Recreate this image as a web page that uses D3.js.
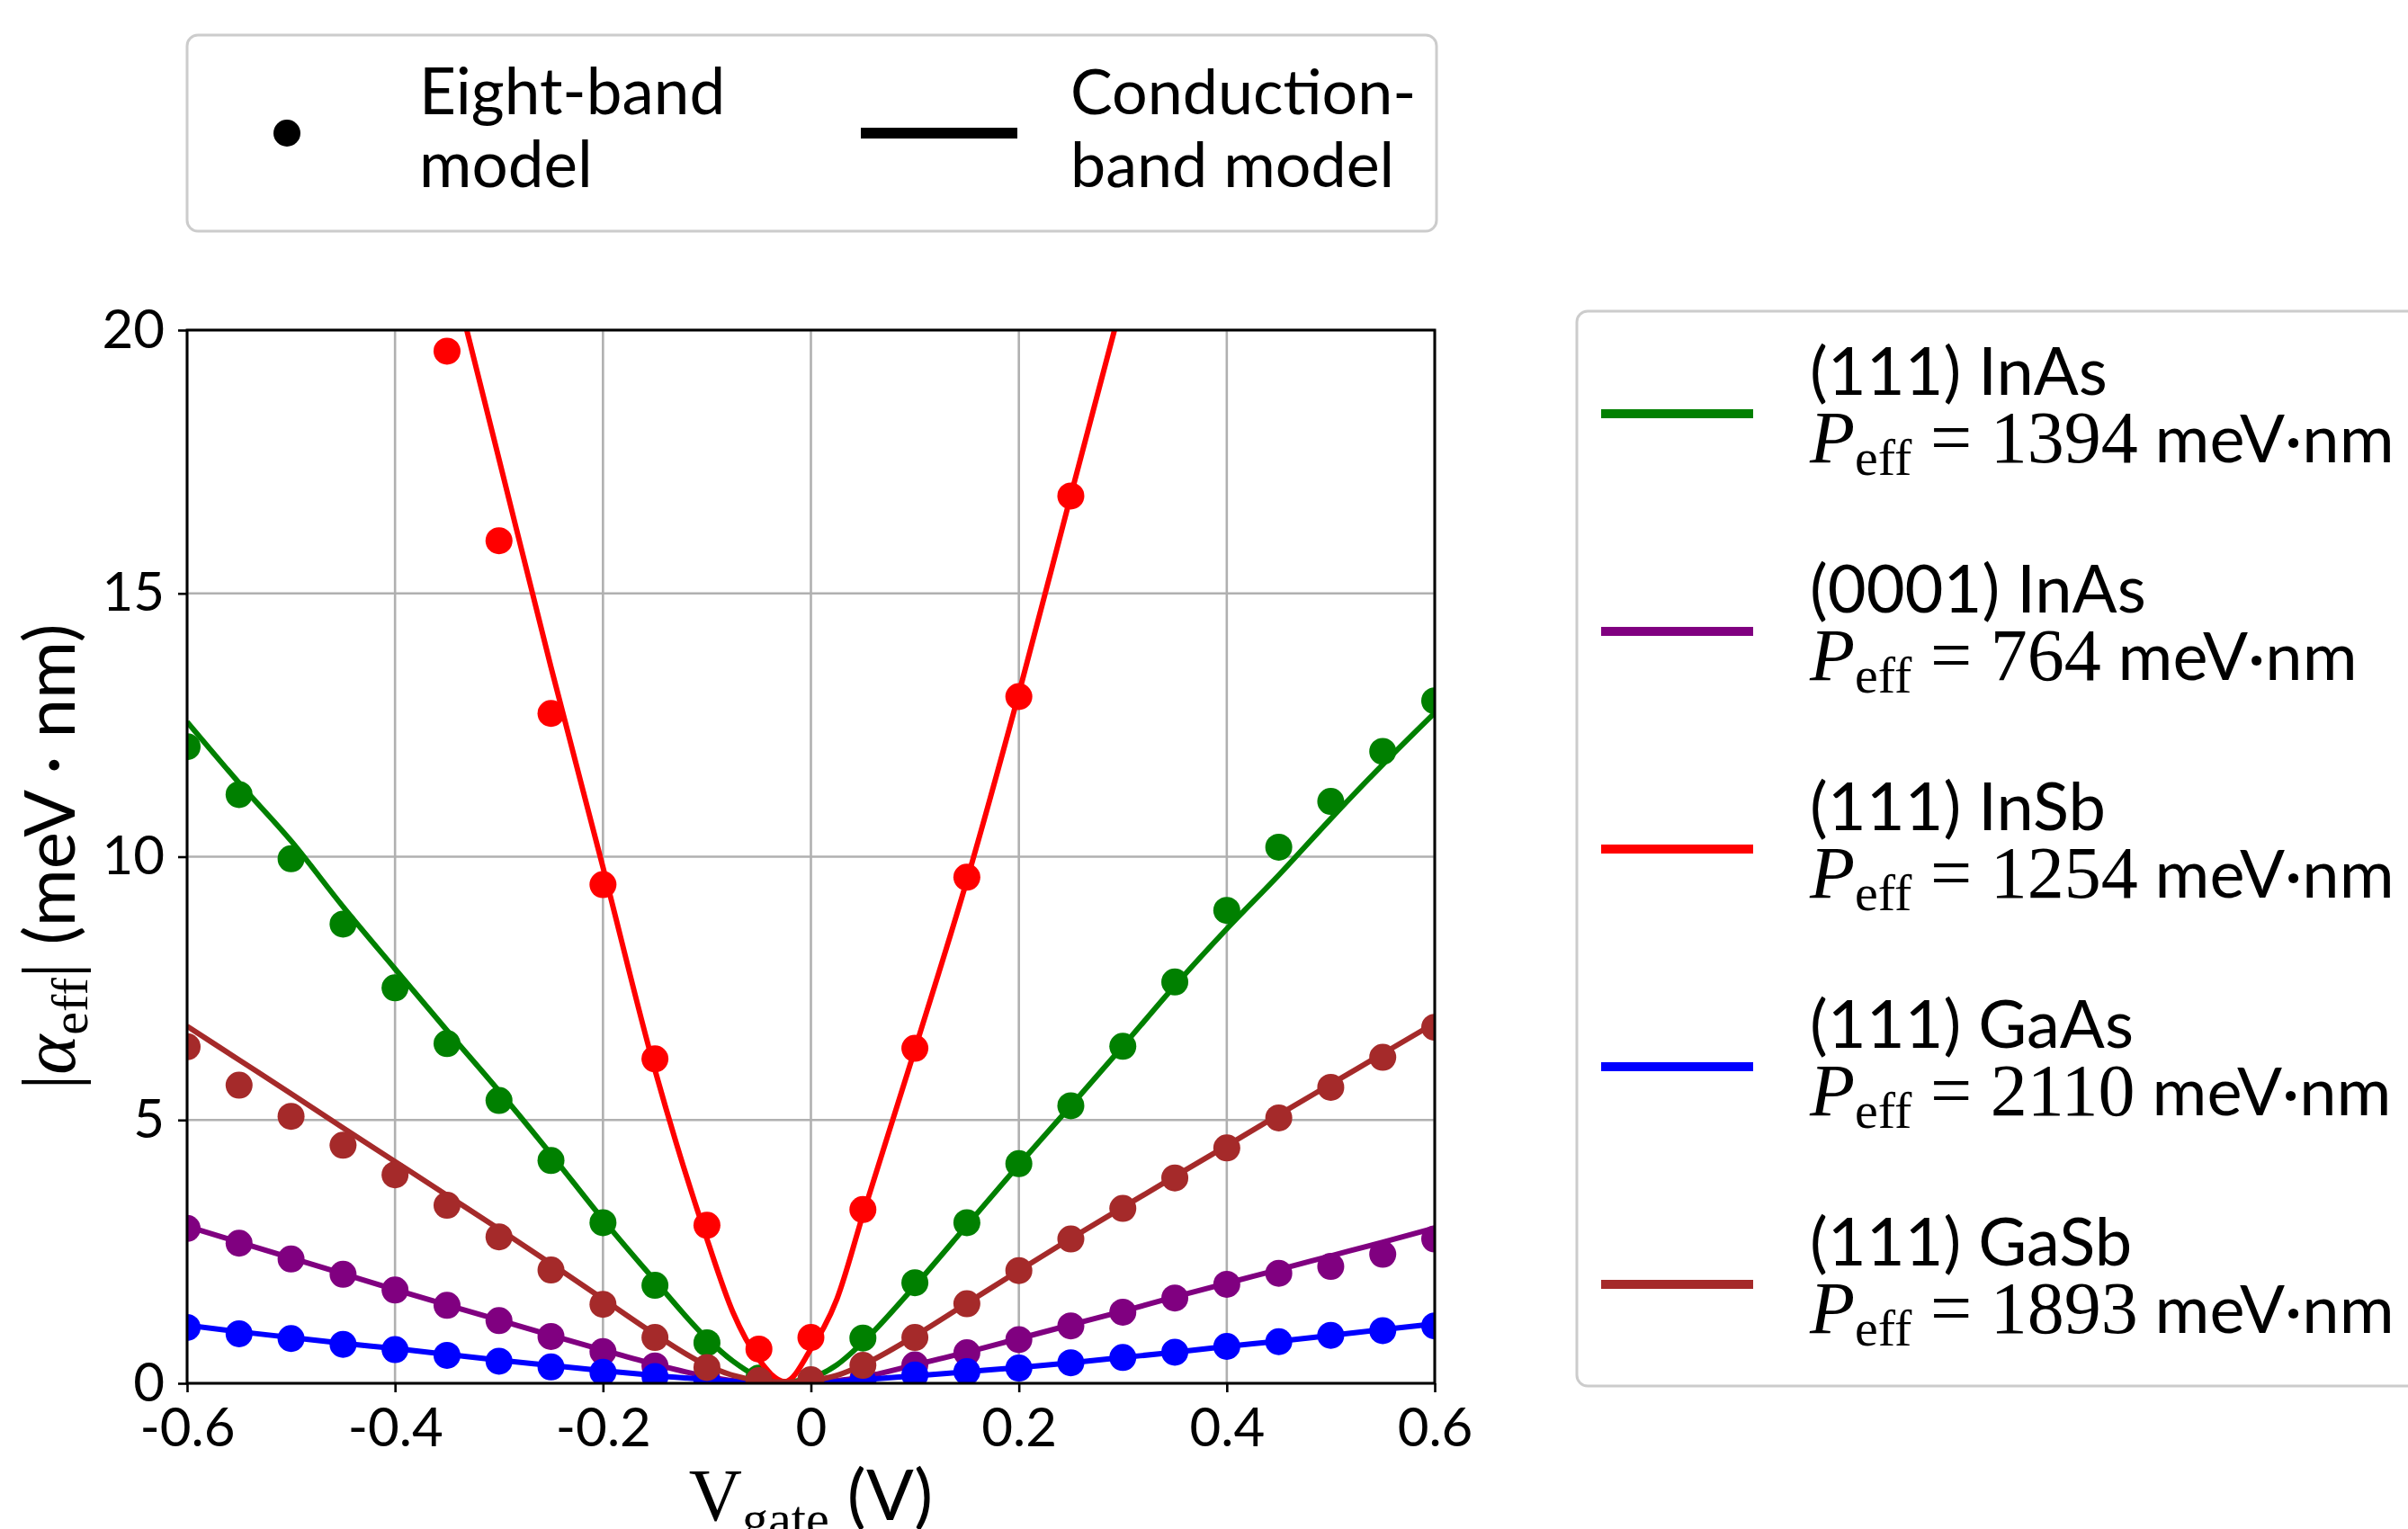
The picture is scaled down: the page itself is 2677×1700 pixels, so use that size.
<!DOCTYPE html>
<html>
<head>
<meta charset="utf-8">
<script src="https://cdn.jsdelivr.net/npm/d3@7"></script>
<style>
    html, body { margin: 0; padding: 0; background: #fff; }
    svg { display: block; }
    text { white-space: pre; }
</style>
</head>
<body>
<div id="chart"></div>
<script>
// Gate voltages of the eight-band points and of the conduction-band curves
const vgate = [-0.6, -0.55, -0.5, -0.45, -0.4, -0.35, -0.3, -0.25, -0.2, -0.15, -0.1, -0.05,
    0, 0.05, 0.1, 0.15, 0.2, 0.25, 0.3, 0.35, 0.4, 0.45, 0.5, 0.55, 0.6];
const vgateModel = [-0.6, -0.55, -0.5, -0.45, -0.4, -0.35, -0.3, -0.25, -0.2, -0.15, -0.1, -0.075,
    -0.05, -0.025, 0, 0.025, 0.05, 0.1, 0.15, 0.2, 0.25, 0.3, 0.35, 0.4, 0.45, 0.5, 0.55, 0.6];

// Eight-band model |alpha_eff| (meV nm)
const inAs111Eight = [12.09, 11.18, 9.96, 8.72, 7.51, 6.45, 5.37, 4.23, 3.05, 1.86, 0.77, 0.10,
    0.05, 0.86, 1.91, 3.05, 4.17, 5.27, 6.40, 7.62, 8.98, 10.18, 11.05, 12.00, 12.96];
const inAs0001Eight = [2.94, 2.66, 2.36, 2.07, 1.77, 1.48, 1.19, 0.89, 0.60, 0.33, 0.09, 0.01,
    0.01, 0.09, 0.35, 0.58, 0.83, 1.09, 1.35, 1.62, 1.88, 2.09, 2.22, 2.45, 2.74];
const inSb111Eight = [null, null, null, null, null, 19.6, 16.0, 12.72, 9.47, 6.16, 3.00, 0.65,
    0.87, 3.30, 6.36, 9.61, 13.04, 16.85, null, null, null, null, null, null, null];
const gaAs111Eight = [1.06, 0.94, 0.85, 0.74, 0.64, 0.53, 0.42, 0.31, 0.21, 0.13, 0.05, 0.01,
    0.00, 0.05, 0.16, 0.22, 0.29, 0.39, 0.49, 0.59, 0.70, 0.79, 0.91, 1.00, 1.09];
const gaSb111Eight = [6.39, 5.66, 5.07, 4.52, 3.96, 3.38, 2.78, 2.15, 1.50, 0.87, 0.30, 0.05,
    0.07, 0.34, 0.87, 1.51, 2.14, 2.74, 3.32, 3.90, 4.47, 5.04, 5.62, 6.19, 6.76];

// Conduction-band model |alpha_eff| (meV nm)
const inAs111Model = [12.56, 11.40, 10.30, 9.05, 7.87, 6.70, 5.55, 4.35, 3.11, 1.95, 0.85, 0.42,
    0.12, 0.03, 0.10, 0.35, 0.78, 1.85, 3.00, 4.15, 5.27, 6.40, 7.55, 8.63, 9.65, 10.72, 11.75, 12.73];
const inAs0001Model = [2.98, 2.68, 2.38, 2.08, 1.78, 1.49, 1.20, 0.91, 0.63, 0.36, 0.13, 0.05,
    0.02, 0.01, 0.02, 0.05, 0.12, 0.35, 0.59, 0.85, 1.11, 1.37, 1.64, 1.90, 2.16, 2.42, 2.68, 2.95];
const inSb111Model = [null, null, null, null, null, 21.5, 17.55, 13.6, 9.8, 5.95, 2.74, 1.35,
    0.45, 0.03, 0.65, 1.6, 3.2, 6.34, 9.55, 13.1, 16.86, 20.6, null, null, null, null, null, null];
const gaAs111Model = [1.10, 0.98, 0.87, 0.76, 0.66, 0.55, 0.44, 0.34, 0.24, 0.15, 0.07, 0.04,
    0.015, 0.005, 0.01, 0.03, 0.07, 0.14, 0.22, 0.30, 0.39, 0.49, 0.59, 0.70, 0.80, 0.91, 1.02, 1.13];
const gaSb111Model = [6.78, 6.14, 5.50, 4.85, 4.21, 3.57, 2.93, 2.27, 1.60, 0.93, 0.34, 0.15,
    0.05, 0.02, 0.05, 0.15, 0.35, 0.90, 1.52, 2.14, 2.75, 3.34, 3.93, 4.51, 5.10, 5.68, 6.26, 6.84];

const materials = ['(111) InAs', '(0001) InAs', '(111) InSb', '(111) GaAs', '(111) GaSb'];
const peffValues = ['1394', '764', '1254', '2110', '1893'];
const colors = ['#008000', '#800080', '#ff0000', '#0000ff', '#a52a2a'];
const eightBand = [inAs111Eight, inAs0001Eight, inSb111Eight, gaAs111Eight, gaSb111Eight];
const conductionBand = [inAs111Model, inAs0001Model, inSb111Model, gaAs111Model, gaSb111Model];

const xTicks = [-0.6, -0.4, -0.2, 0, 0.2, 0.4, 0.6];
const xTickLabels = ['-0.6', '-0.4', '-0.2', '0', '0.2', '0.4', '0.6'];
const yTicks = [0, 5, 10, 15, 20];
const yTickLabels = ['0', '5', '10', '15', '20'];

const SANS = 'Lato, "Open Sans", sans-serif';
const SERIF = '"Liberation Serif", "DejaVu Serif", serif';

const width = 2677;
const height = 1700;
const plot = { left: 208, right: 1595, top: 367, bottom: 1538 };

const series = materials.map((name, i) => ({
    name,
    peff: peffValues[i],
    color: colors[i],
    points: vgate.map((v, j) => [v, eightBand[i][j]]).filter((d) => d[1] !== null),
    curve: vgateModel.map((v, j) => [v, conductionBand[i][j]])
}));

const svg = d3.select('#chart')
    .append('svg')
    .attr('width', width)
    .attr('height', height)
    .attr('viewBox', `0 0 ${width} ${height}`);

svg.append('rect').attr('width', width).attr('height', height).attr('fill', '#fff');

const x = d3.scaleLinear().domain([-0.6, 0.6]).range([plot.left, plot.right]);
const y = d3.scaleLinear().domain([0, 20]).range([plot.bottom, plot.top]);

svg.append('clipPath')
    .attr('id', 'plot-clip')
    .append('rect')
    .attr('x', plot.left)
    .attr('y', plot.top)
    .attr('width', plot.right - plot.left)
    .attr('height', plot.bottom - plot.top);

// grid
const grid = svg.append('g').attr('stroke', '#b0b0b0').attr('stroke-width', 2.6);
grid.selectAll('line.vx')
    .data(xTicks)
    .enter()
    .append('line')
    .attr('x1', (d) => x(d)).attr('x2', (d) => x(d))
    .attr('y1', plot.top).attr('y2', plot.bottom);
grid.selectAll('line.hy')
    .data(yTicks)
    .enter()
    .append('line')
    .attr('y1', (d) => y(d)).attr('y2', (d) => y(d))
    .attr('x1', plot.left).attr('x2', plot.right);

// data
const lineGen = d3.line()
    .defined((d) => d[1] !== null)
    .x((d) => x(d[0]))
    .y((d) => y(d[1]))
    .curve(d3.curveMonotoneX);

const marks = svg.append('g').attr('clip-path', 'url(#plot-clip)');
series.forEach((s) => {
    marks.append('path')
        .datum(s.curve)
        .attr('d', lineGen)
        .attr('fill', 'none')
        .attr('stroke', s.color)
        .attr('stroke-width', 6)
        .attr('stroke-linejoin', 'round');
    marks.append('g')
        .selectAll('circle')
        .data(s.points)
        .enter()
        .append('circle')
        .attr('cx', (d) => x(d[0]))
        .attr('cy', (d) => y(d[1]))
        .attr('r', 15)
        .attr('fill', s.color);
});

// axes
const xAxis = svg.append('g')
    .attr('transform', `translate(0,${plot.bottom})`)
    .call(d3.axisBottom(x)
        .tickValues(xTicks)
        .tickFormat((d, i) => xTickLabels[i])
        .tickSize(10)
        .tickPadding(17));
const yAxis = svg.append('g')
    .attr('transform', `translate(${plot.left},0)`)
    .call(d3.axisLeft(y)
        .tickValues(yTicks)
        .tickFormat((d, i) => yTickLabels[i])
        .tickSize(10)
        .tickPadding(15));

[xAxis, yAxis].forEach((axis) => {
    axis.select('.domain').remove();
    axis.selectAll('.tick line').attr('stroke', '#000').attr('stroke-width', 2.6);
    axis.selectAll('.tick text')
        .attr('fill', '#000')
        .attr('font-family', SANS)
        .attr('font-size', 60);
});

svg.append('rect')
    .attr('x', plot.left)
    .attr('y', plot.top)
    .attr('width', plot.right - plot.left)
    .attr('height', plot.bottom - plot.top)
    .attr('fill', 'none')
    .attr('stroke', '#000')
    .attr('stroke-width', 3);

// rich text helper: parts of sans / serif text with optional subscript shifts
function richText(parent, px, py, parts, anchor) {
    const text = parent.append('text')
        .attr('x', px)
        .attr('y', py)
        .attr('text-anchor', anchor || 'start')
        .attr('fill', '#000');
    parts.forEach((p) => {
        const span = text.append('tspan')
            .text(p.t)
            .attr('font-family', p.serif ? SERIF : SANS)
            .attr('font-size', p.size);
        if (p.italic) span.attr('font-style', 'italic');
        if (p.dy) span.attr('dy', p.dy);
    });
    return text;
}

// axis labels
richText(svg, (plot.left + plot.right) / 2, 1690, [
    { t: 'V', serif: true, size: 82 },
    { t: 'gate', serif: true, size: 58, dy: 18 },
    { t: ' (V)', size: 78, dy: -18 }
], 'middle');

const yLabel = svg.append('g').attr('transform', `translate(83,${(plot.top + plot.bottom) / 2}) rotate(-90)`);
richText(yLabel, 0, 0, [
    { t: '|', serif: true, size: 84 },
    { t: 'α', serif: true, italic: true, size: 84 },
    { t: 'eff', serif: true, size: 58, dy: 14 },
    { t: '|', serif: true, size: 84, dy: -14 },
    { t: ' (meV · nm)', size: 78 }
], 'middle');

// top legend: marker styles
const topLegend = svg.append('g');
topLegend.append('rect')
    .attr('x', 208).attr('y', 39)
    .attr('width', 1389).attr('height', 218)
    .attr('rx', 12)
    .attr('fill', '#fff')
    .attr('stroke', '#cccccc')
    .attr('stroke-width', 3);
topLegend.append('circle').attr('cx', 319).attr('cy', 148).attr('r', 15).attr('fill', '#000');
richText(topLegend, 466, 127, [{ t: 'Eight-band', size: 71 }]);
richText(topLegend, 466, 208, [{ t: 'model', size: 71 }]);
topLegend.append('line')
    .attr('x1', 957).attr('x2', 1131)
    .attr('y1', 148).attr('y2', 148)
    .attr('stroke', '#000')
    .attr('stroke-width', 12);
richText(topLegend, 1190, 127, [{ t: 'Conduction-', size: 70 }]);
richText(topLegend, 1190, 208, [{ t: 'band model', size: 70 }]);

// right legend: materials
const rightLegend = svg.append('g');
rightLegend.append('rect')
    .attr('x', 1753).attr('y', 346)
    .attr('width', 1000).attr('height', 1195)
    .attr('rx', 12)
    .attr('fill', '#fff')
    .attr('stroke', '#cccccc')
    .attr('stroke-width', 3);

const entries = rightLegend.selectAll('g.entry')
    .data(series)
    .enter()
    .append('g')
    .attr('class', 'entry')
    .attr('transform', (d, i) => `translate(0,${460 + i * 242})`);

entries.append('line')
    .attr('x1', 1780).attr('x2', 1949)
    .attr('y1', 0).attr('y2', 0)
    .attr('stroke', (d) => d.color)
    .attr('stroke-width', 10);

entries.each(function (d) {
    const g = d3.select(this);
    richText(g, 2012, -21, [{ t: d.name, size: 74 }]);
    richText(g, 2012, 54, [
        { t: 'P', serif: true, italic: true, size: 82 },
        { t: 'eff', serif: true, size: 58, dy: 14 },
        { t: ' = ' + d.peff, serif: true, size: 82, dy: -14 },
        { t: ' meV·nm', size: 74 }
    ]);
});
</script>
</body>
</html>
